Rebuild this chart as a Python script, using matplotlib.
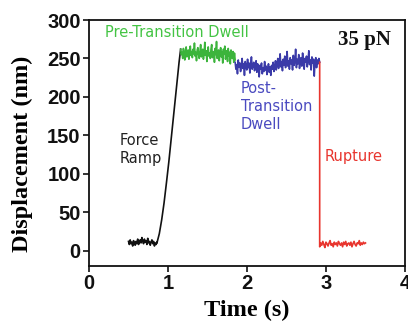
import numpy as np
import matplotlib
matplotlib.use("Agg")
import matplotlib.pyplot as plt

# ---- data ----
base_t_range = [0.50, 0.86]
black_base = [12, 8, 14, 9, 11, 6, 13, 10, 7, 12, 9, 15, 8, 11, 14, 10, 17, 12, 9,
              15, 11, 13, 8, 16, 10, 12, 7, 11, 14, 9, 12, 6, 10, 8, 11]
ramp_t = [0.86, 0.89, 0.92, 0.95, 0.98, 1.01, 1.04, 1.07, 1.10, 1.12, 1.14, 1.16]
ramp_y = [10, 22, 40, 62, 88, 115, 145, 175, 205, 225, 245, 262]

green_t_range = [1.16, 1.85]
green = [262, 255, 258, 250, 263, 256, 248, 260, 265, 252, 258, 261, 249, 257, 266, 254,
         259, 251, 262, 256, 270, 253, 258, 247, 261, 264, 255, 250, 259, 268, 252, 257,
         262, 249, 256, 271, 254, 260, 246, 258, 265, 253, 257, 250, 262, 268, 251, 256,
         259, 245, 263, 255, 272, 250, 258, 261, 247, 257, 264, 252, 259, 244, 262, 256,
         266, 249, 255, 260, 246, 263, 253, 258, 243, 261, 255, 250, 259, 245, 257, 248]

blue_t_range = [1.85, 2.92]
blue = [245, 236, 242, 230, 248, 239, 244, 233, 241, 250,
        237, 243, 228, 246, 240, 235, 249, 238, 244, 231,
        242, 252, 236, 241, 245, 234, 239, 247, 232, 243,
        238, 226, 241, 236, 244, 230, 238, 233, 246, 235,
        240, 229, 237, 243, 232, 239, 228, 241, 236, 245,
        233, 238, 247, 235, 242, 250, 237, 244, 256, 239,
        246, 234, 249, 241, 253, 238, 245, 259, 240, 247,
        236, 251, 243, 248, 235, 254, 241, 246, 262, 238,
        249, 243, 255, 237, 246, 251, 240, 257, 244, 236,
        250, 245, 253, 239, 247, 260, 242, 248, 235, 252,
        244, 249, 227, 246, 251, 238, 248, 243, 250, 245]

rupture_t = 2.92
red_t_range = [2.92, 3.50]
red = [5, 10, 7, 12, 8, 4, 11, 9, 6, 10, 13, 7, 9, 5, 11, 8, 10, 6, 12, 9, 7, 10, 5,
       11, 8, 12, 6, 9, 10, 7, 11, 5, 9, 12, 8, 6, 10, 9, 13, 7, 10, 8, 11, 9, 10]

xticks = [0, 1, 2, 3, 4]
yticks = [0, 50, 100, 150, 200, 250, 300]

# ---- plot ----
fig = plt.figure(figsize=(4.08, 3.24), dpi=100)
ax = fig.add_axes([89/408, 58/324, (405-89)/408, (266-20)/324])

c_black = "#111111"
c_green = "#3cb43c"
c_blue = "#3a3aa8"
c_red = "#e8352e"
lw = 1.2

tb = np.linspace(base_t_range[0], base_t_range[1], len(black_base))
ax.plot(list(tb) + ramp_t, black_base + ramp_y, color=c_black, lw=lw)

tg = np.linspace(green_t_range[0], green_t_range[1], len(green))
ax.plot(tg, green, color=c_green, lw=lw)

tbl = np.linspace(blue_t_range[0], blue_t_range[1], len(blue))
ax.plot(tbl, blue, color=c_blue, lw=lw)

tr = np.linspace(red_t_range[0], red_t_range[1], len(red))
ax.plot([rupture_t] + list(tr), [blue[-1]] + red, color=c_red, lw=lw)

ax.set_xlim(0, 4)
ax.set_ylim(-20, 300)
ax.set_xticks(xticks)
ax.set_yticks(yticks)
tick_font = dict(family="Liberation Sans", weight="bold", size=14.5)
ax.set_xticklabels([str(v) for v in xticks], fontdict=tick_font)
ax.set_yticklabels([str(v) for v in yticks], fontdict=tick_font)
ax.tick_params(direction="out", length=4, width=1.2, pad=2, colors="#111111")
for s in ax.spines.values():
    s.set_linewidth(1.3)
    s.set_color("#111111")

lab_font = dict(family="Liberation Serif", weight="bold", size=17.5)
ax.set_xlabel("Time (s)", fontdict=lab_font, labelpad=5)
ax.set_ylabel("Displacement (nm)", fontdict=lab_font)
ax.yaxis.set_label_coords(-0.178, 0.455)

ann = dict(family="DejaVu Sans", size=10.5)
ax.text(0.2, 284, "Pre-Transition Dwell", color="#44c444", ha="left", va="center", **ann)
ax.text(1.92, 187, "Post-\nTransition\nDwell", color="#4a4ac0", ha="left", va="center",
        linespacing=1.25, **ann)
ax.text(0.39, 132, "Force\nRamp", color="#222222", ha="left", va="center",
        linespacing=1.25, **ann)
ax.text(2.98, 123, "Rupture", color=c_red, ha="left", va="center", **ann)
ax.text(3.82, 274, "35 pN", color="#111111", ha="right", va="center",
        family="Liberation Serif", weight="bold", size=15)

fig.savefig("out.png", dpi=100)
